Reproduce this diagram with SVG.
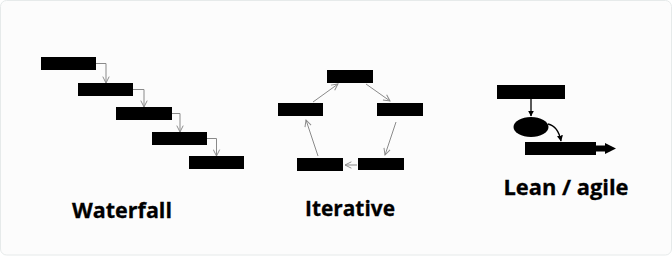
<svg xmlns="http://www.w3.org/2000/svg" width="672" height="256" viewBox="0 0 672 256">
  <defs>
    <style>
      .box { fill: #000; }
      .thin { fill: none; stroke: #8a8a8a; stroke-width: 1; }
      .blk { fill: none; stroke: #000; stroke-width: 1.3; }
      .label { font-family: "Open Sans", "Noto Sans", sans-serif; font-weight: 700; font-size: 21.5px; fill: #000; stroke: #000; stroke-width: 0.3; text-anchor: middle; }
    </style>
    <marker id="open" viewBox="0 0 10 10" refX="9" refY="5" markerWidth="8" markerHeight="8" markerUnits="userSpaceOnUse" orient="auto">
      <path d="M1,1 L9,5 L1,9" fill="none" stroke="#8a8a8a" stroke-width="1.2"/>
    </marker>
    <marker id="solid" viewBox="0 0 10 10" refX="9" refY="5" markerWidth="6" markerHeight="6" markerUnits="userSpaceOnUse" orient="auto">
      <path d="M0,0 L10,5 L0,10 Z" fill="#000"/>
    </marker>
  </defs>

  <rect x="0.5" y="0.5" width="671" height="254.5" rx="6" fill="#fcfcfc" stroke="#e6eaea"/>

  <!-- Waterfall -->
  <g id="wf1"><rect class="box" x="41" y="57" width="55" height="13"/></g>
  <g id="wf2"><rect class="box" x="78" y="83" width="55" height="13"/></g>
  <g id="wf3"><rect class="box" x="116" y="107" width="56" height="13"/></g>
  <g id="wf4"><rect class="box" x="152" y="132" width="55" height="13"/></g>
  <g id="wf5"><rect class="box" x="189" y="156" width="55" height="13"/></g>

  <!-- Iterative -->
  <g id="it-top"><rect class="box" x="327" y="70" width="46" height="13"/></g>
  <g id="it-right"><rect class="box" x="377" y="103" width="46" height="13"/></g>
  <g id="it-bright"><rect class="box" x="358" y="158" width="46" height="12"/></g>
  <g id="it-bleft"><rect class="box" x="297" y="158" width="46" height="13"/></g>
  <g id="it-left"><rect class="box" x="278" y="103" width="45" height="13"/></g>

  <!-- Lean / agile -->
  <g id="ln-top"><rect class="box" x="497" y="85" width="68" height="14"/></g>
  <g id="ln-mid"><ellipse class="box" cx="531" cy="127" rx="17.5" ry="10"/></g>
  <g id="ln-bot">
    <rect class="box" x="525" y="142" width="71" height="13"/>
    <path d="M596,145.5 H605 V143 L616,148.5 L605,154 V151.5 H596 Z" fill="#000"/>
  </g>

  <g id="connectors">
    <path class="thin" d="M96,63.5 H106 V83" marker-end="url(#open)"/>
    <path class="thin" d="M133,89.5 H144 V107" marker-end="url(#open)"/>
    <path class="thin" d="M172,113.5 H180 V132" marker-end="url(#open)"/>
    <path class="thin" d="M207,138.5 H216.5 V156" marker-end="url(#open)"/>

    <path class="thin" d="M366,84 L390,101" marker-end="url(#open)"/>
    <path class="thin" d="M396,122 L385,155" marker-end="url(#open)"/>
    <path class="thin" d="M357,165 L345,165" marker-end="url(#open)"/>
    <path class="thin" d="M318,156 L306,120" marker-end="url(#open)"/>
    <path class="thin" d="M313,102 L338,84" marker-end="url(#open)"/>

    <path class="blk" d="M531,99 V116" marker-end="url(#solid)"/>
    <path class="blk" d="M548,124 Q558,126 561,141" marker-end="url(#solid)"/>
  </g>

  <text class="label" x="122" y="218" textLength="100" lengthAdjust="spacingAndGlyphs">Waterfall</text>
  <text class="label" x="350" y="216" textLength="90" lengthAdjust="spacingAndGlyphs">Iterative</text>
  <text class="label" x="566" y="195" textLength="125" lengthAdjust="spacingAndGlyphs">Lean / agile</text>
</svg>
